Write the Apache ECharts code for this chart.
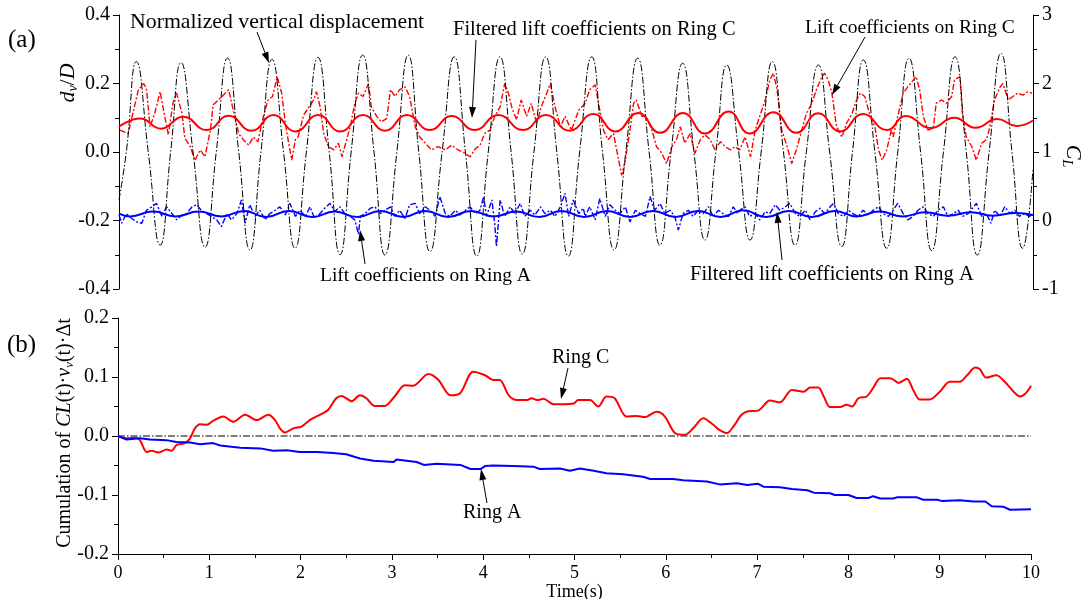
<!DOCTYPE html>
<html>
<head>
<meta charset="utf-8">
<script src="https://cdn.jsdelivr.net/npm/echarts@6/dist/echarts.min.js"></script>
<style>
html, body { margin: 0; padding: 0; background: #fff; }
#chart { width: 1084px; height: 599px; }
</style>
</head>
<body>
<div id="chart"></div>
<script>
// (a) normalized vertical displacement d_v/D, [time, value]
const displacement = [
  [0, -0.14], [0.08, 0], [0.19, 0.264], [0.32, 0], [0.45, -0.272], [0.565, 0], [0.678, 0.261], [0.81, 0],
  [0.941, -0.278], [1.064, 0], [1.187, 0.274], [1.31, 0], [1.433, -0.286], [1.553, 0], [1.674, 0.27], [1.8, 0],
  [1.926, -0.281], [2.05, 0], [2.177, 0.276], [2.3, 0], [2.418, -0.3], [2.54, 0], [2.666, 0.283], [2.79, 0],
  [2.91, -0.301], [3.04, 0], [3.165, 0.283], [3.28, 0], [3.403, -0.291], [3.535, 0], [3.668, 0.278], [3.79, 0],
  [3.914, -0.304], [4.04, 0], [4.168, 0.278], [4.29, 0], [4.412, -0.298], [4.54, 0], [4.668, 0.278], [4.79, 0],
  [4.916, -0.304], [5.04, 0], [5.172, 0.278], [5.29, 0], [5.416, -0.286], [5.545, 0], [5.675, 0.274], [5.8, 0],
  [5.919, -0.272], [6.04, 0], [6.167, 0.259], [6.29, 0], [6.411, -0.257], [6.53, 0], [6.649, 0.254], [6.78, 0],
  [6.904, -0.257], [7.026, 0], [7.148, 0.264], [7.27, 0], [7.396, -0.272], [7.52, 0], [7.651, 0.254], [7.775, 0],
  [7.907, -0.276], [8.025, 0], [8.144, 0.269], [8.27, 0], [8.399, -0.281], [8.52, 0], [8.643, 0.274], [8.77, 0],
  [8.892, -0.288], [9.02, 0], [9.147, 0.278], [9.27, 0], [9.39, -0.301], [9.52, 0], [9.65, 0.288], [9.77, 0],
  [9.887, -0.281], [10, -0.05]
]

// (a) lift coefficients on Ring C (raw), right axis
const liftC = [
  [0.01, 1.32], [0.1, 1.27], [0.16, 1.61], [0.21, 1.9], [0.27, 2.0], [0.3, 1.93], [0.34, 1.37], [0.39, 1.56],
  [0.45, 1.88], [0.5, 1.52], [0.54, 1.25], [0.59, 1.71], [0.63, 1.86], [0.69, 1.56], [0.72, 1.2], [0.78, 1.08],
  [0.83, 0.88], [0.89, 1.03], [0.94, 0.93], [1.0, 1.32], [1.03, 1.69], [1.09, 1.76], [1.14, 1.83], [1.2, 1.91],
  [1.25, 1.61], [1.31, 1.27], [1.36, 1.18], [1.42, 1.1], [1.47, 1.22], [1.52, 1.15], [1.58, 1.52], [1.63, 1.76],
  [1.68, 1.81], [1.73, 2.1], [1.78, 1.86], [1.82, 1.42], [1.85, 1.18], [1.89, 0.88], [1.93, 1.18], [1.96, 1.22],
  [2.02, 1.54], [2.07, 1.64], [2.13, 1.76], [2.16, 1.88], [2.2, 1.66], [2.24, 1.27], [2.29, 1.08], [2.35, 1.03],
  [2.4, 1.13], [2.44, 0.93], [2.47, 1.08], [2.53, 1.37], [2.58, 1.71], [2.62, 1.86], [2.67, 1.81], [2.73, 2.0],
  [2.76, 1.66], [2.82, 1.52], [2.87, 1.44], [2.93, 1.49], [2.97, 1.91], [3.02, 1.81], [3.07, 1.91], [3.13, 1.95],
  [3.18, 1.81], [3.24, 1.37], [3.29, 1.22], [3.35, 1.13], [3.42, 1.03], [3.49, 1.08], [3.57, 1.03], [3.64, 1.1],
  [3.71, 1.03], [3.79, 0.98], [3.84, 0.93], [3.9, 1.05], [3.95, 1.1], [4.0, 1.27], [4.06, 1.32], [4.11, 1.52],
  [4.17, 1.66], [4.22, 2.0], [4.26, 1.86], [4.3, 1.64], [4.35, 1.47], [4.4, 1.76], [4.46, 1.52], [4.51, 1.71],
  [4.57, 1.42], [4.62, 1.66], [4.68, 1.86], [4.72, 2.0], [4.77, 1.66], [4.83, 1.37], [4.88, 1.52], [4.95, 1.32],
  [5.03, 1.61], [5.1, 1.71], [5.15, 1.91], [5.21, 1.98], [5.24, 1.76], [5.3, 1.32], [5.35, 1.18], [5.41, 1.27],
  [5.46, 0.93], [5.5, 0.66], [5.54, 0.88], [5.59, 1.32], [5.63, 1.71], [5.66, 1.76], [5.72, 1.52], [5.77, 1.52],
  [5.83, 1.32], [5.88, 1.08], [5.94, 0.98], [5.99, 0.83], [6.05, 1.08], [6.1, 1.18], [6.14, 1.37], [6.19, 1.13],
  [6.25, 1.27], [6.3, 0.98], [6.36, 1.18], [6.41, 1.25], [6.47, 1.18], [6.52, 1.03], [6.58, 1.15], [6.63, 1.08],
  [6.69, 1.03], [6.74, 1.08], [6.79, 1.03], [6.85, 1.22], [6.91, 0.93], [6.96, 1.32], [7.01, 1.52], [7.07, 1.76],
  [7.12, 2.05], [7.16, 2.15], [7.2, 1.91], [7.25, 1.32], [7.31, 1.08], [7.36, 0.83], [7.41, 1.03], [7.47, 1.32],
  [7.52, 1.56], [7.58, 1.71], [7.63, 1.91], [7.69, 2.1], [7.72, 2.15], [7.76, 2.05], [7.8, 1.86], [7.85, 1.37],
  [7.91, 1.22], [7.96, 1.42], [8.02, 1.56], [8.07, 1.76], [8.11, 1.86], [8.16, 1.81], [8.22, 1.52], [8.27, 1.37],
  [8.31, 1.03], [8.35, 0.88], [8.4, 1.03], [8.45, 1.32], [8.47, 1.22], [8.52, 1.52], [8.58, 1.86], [8.63, 1.95],
  [8.69, 2.05], [8.72, 2.1], [8.76, 1.91], [8.8, 1.52], [8.85, 1.32], [8.91, 1.35], [8.94, 1.71], [9.0, 1.76],
  [9.05, 1.71], [9.11, 1.81], [9.14, 2.05], [9.2, 2.1], [9.23, 1.52], [9.27, 1.22], [9.33, 1.08], [9.38, 0.88],
  [9.44, 1.13], [9.49, 1.18], [9.52, 1.32], [9.58, 1.76], [9.64, 1.95], [9.67, 2.0], [9.73, 1.76], [9.78, 1.81],
  [9.83, 1.86], [9.89, 1.83], [9.94, 1.88], [9.99, 1.86]
]

// (a) lift coefficients on Ring A (raw), right axis
const liftA = [
  [0, 0.08], [0.03, -0.04], [0.08, 0.1], [0.14, 0.03], [0.19, -0.02], [0.25, -0.04], [0.3, 0.15], [0.36, 0.2],
  [0.41, 0.25], [0.47, 0.06], [0.52, 0.2], [0.58, 0.1], [0.63, 0.01], [0.69, 0.08], [0.74, 0.1], [0.8, 0.2],
  [0.85, 0.23], [0.9, 0.15], [0.96, 0.1], [1.01, 0.06], [1.07, 0.01], [1.12, -0.09], [1.18, 0.1], [1.23, 0.01],
  [1.29, 0.1], [1.34, 0.3], [1.38, -0.04], [1.43, 0.23], [1.49, 0.06], [1.54, 0.15], [1.6, 0.01], [1.65, 0.1],
  [1.71, 0.15], [1.76, 0.2], [1.82, 0.08], [1.87, 0.25], [1.93, 0.06], [1.98, 0.15], [2.04, 0.06], [2.09, 0.2],
  [2.14, 0.03], [2.2, 0.1], [2.25, 0.18], [2.31, 0.25], [2.36, 0.13], [2.42, 0.2], [2.47, 0.1], [2.53, 0.06],
  [2.58, 0.01], [2.62, -0.2], [2.64, 0.06], [2.69, 0.1], [2.75, 0.18], [2.8, 0.2], [2.86, 0.1], [2.91, 0.15],
  [2.97, 0.2], [3.02, 0.06], [3.07, 0.15], [3.13, 0.03], [3.18, 0.23], [3.24, 0.25], [3.29, 0.1], [3.35, 0.2],
  [3.4, 0.15], [3.46, 0.06], [3.51, 0.35], [3.57, 0.1], [3.62, 0.06], [3.68, 0.15], [3.73, 0.08], [3.79, 0.15],
  [3.84, 0.2], [3.9, 0.1], [3.95, 0.15], [3.99, 0.35], [4.02, 0.06], [4.08, 0.3], [4.11, -0.04], [4.13, -0.38],
  [4.17, 0.3], [4.22, 0.06], [4.28, 0.2], [4.33, 0.1], [4.39, 0.25], [4.44, 0.06], [4.5, 0.15], [4.55, 0.08],
  [4.61, 0.2], [4.66, 0.1], [4.72, 0.15], [4.77, 0.06], [4.83, 0.2], [4.88, 0.4], [4.92, 0.06], [4.97, 0.3],
  [5.03, 0.1], [5.08, 0.18], [5.1, 0.06], [5.15, 0.2], [5.21, 0.01], [5.26, 0.32], [5.32, 0.06], [5.37, 0.23],
  [5.43, 0.15], [5.48, 0.1], [5.54, 0.2], [5.59, -0.02], [5.65, 0.15], [5.7, 0.1], [5.76, 0.06], [5.81, 0.35],
  [5.86, 0.15], [5.92, 0.25], [5.97, 0.1], [6.03, 0.15], [6.08, 0.06], [6.12, -0.14], [6.17, 0.1], [6.23, 0.15],
  [6.28, 0.06], [6.34, 0.15], [6.39, 0.1], [6.45, 0.2], [6.5, 0.06], [6.56, 0.15], [6.61, 0.1], [6.67, 0.06],
  [6.72, 0.2], [6.77, 0.1], [6.79, 0.15], [6.85, 0.2], [6.9, 0.06], [6.96, 0.1], [7.01, 0.01], [7.07, 0.13],
  [7.12, 0.1], [7.18, 0.23], [7.23, 0.15], [7.29, 0.2], [7.34, 0.25], [7.4, 0.1], [7.45, 0.06], [7.51, 0.15],
  [7.56, 0.01], [7.62, 0.13], [7.67, 0.18], [7.72, 0.1], [7.78, 0.2], [7.82, 0.25], [7.87, 0.1], [7.93, 0.06],
  [7.98, 0.15], [8.03, 0.1], [8.09, 0.06], [8.14, 0.15], [8.2, 0.08], [8.25, 0.15], [8.31, 0.2], [8.36, 0.1],
  [8.42, 0.06], [8.47, 0.15], [8.52, 0.25], [8.58, 0.1], [8.63, 0.01], [8.69, 0.06], [8.74, 0.15], [8.8, 0.2],
  [8.85, 0.1], [8.91, 0.06], [8.96, 0.15], [9.02, 0.2], [9.07, 0.06], [9.13, 0.1], [9.18, 0.15], [9.23, 0.06],
  [9.29, 0.1], [9.34, 0.18], [9.38, 0.25], [9.44, 0.06], [9.49, 0.1], [9.54, -0.04], [9.58, 0.15], [9.64, 0.06],
  [9.69, 0.2], [9.75, 0.1], [9.8, 0.15], [9.85, 0.06], [9.91, 0.1], [9.96, 0.06], [10, 0.1]
]

// (a) filtered lift coefficients, right axis
const filteredC = [
  [0, 1.37], [0.23, 1.49], [0.46, 1.34], [0.7, 1.515], [0.96, 1.32], [1.2, 1.53], [1.45, 1.31], [1.69, 1.54],
  [1.93, 1.3], [2.18, 1.54], [2.42, 1.3], [2.67, 1.54], [2.91, 1.31], [3.15, 1.54], [3.4, 1.32], [3.64, 1.525],
  [3.89, 1.32], [4.15, 1.54], [4.42, 1.32], [4.67, 1.54], [4.93, 1.31], [5.19, 1.555], [5.43, 1.3], [5.68, 1.57],
  [5.92, 1.28], [6.17, 1.57], [6.41, 1.27], [6.67, 1.59], [6.9, 1.27], [7.16, 1.58], [7.41, 1.28], [7.65, 1.565],
  [7.89, 1.3], [8.14, 1.555], [8.4, 1.32], [8.61, 1.525], [8.88, 1.35], [9.14, 1.5], [9.37, 1.355], [9.61, 1.48],
  [9.82, 1.38], [10, 1.46]
]
const filteredA = [
  [0, 0.1], [0.12, 0.06], [0.37, 0.13], [0.62, 0.06], [0.87, 0.13], [1.12, 0.06], [1.37, 0.14], [1.61, 0.05],
  [1.86, 0.14], [2.11, 0.05], [2.36, 0.13], [2.61, 0.05], [2.86, 0.14], [3.11, 0.05], [3.35, 0.14], [3.6, 0.05],
  [3.85, 0.14], [4.1, 0.06], [4.35, 0.13], [4.6, 0.05], [4.84, 0.14], [5.09, 0.05], [5.34, 0.14], [5.59, 0.05],
  [5.84, 0.14], [6.09, 0.05], [6.34, 0.14], [6.58, 0.05], [6.83, 0.15], [7.08, 0.05], [7.33, 0.14], [7.58, 0.05],
  [7.83, 0.14], [8.07, 0.06], [8.32, 0.13], [8.57, 0.06], [8.82, 0.12], [9.07, 0.07], [9.32, 0.12], [9.56, 0.07],
  [9.81, 0.11], [10, 0.08]
]

// (b) cumulation of CL(t)·v_v(t)·Δt
const cumC = [
  [0, 0], [0.095, -0.004], [0.186, -0.003], [0.24, -0.007], [0.314, -0.027], [0.369, -0.025], [0.44, -0.028],
  [0.533, -0.023], [0.588, -0.025], [0.643, -0.015], [0.734, -0.012], [0.789, -0.004], [0.843, 0.013], [0.898, 0.02],
  [0.971, 0.019], [1.044, 0.026], [1.154, 0.033], [1.263, 0.024], [1.391, 0.036], [1.519, 0.027], [1.647, 0.036],
  [1.72, 0.027], [1.774, 0.013], [1.829, 0.006], [1.92, 0.013], [2.01, 0.016], [2.1, 0.027], [2.21, 0.036],
  [2.3, 0.044], [2.39, 0.064], [2.45, 0.068], [2.56, 0.059], [2.65, 0.069], [2.72, 0.064], [2.81, 0.051],
  [2.92, 0.051], [3.03, 0.067], [3.14, 0.086], [3.23, 0.085], [3.4, 0.105], [3.51, 0.095], [3.64, 0.069],
  [3.75, 0.073], [3.89, 0.109], [4.02, 0.103], [4.11, 0.095], [4.18, 0.095], [4.28, 0.069], [4.37, 0.061],
  [4.48, 0.061], [4.53, 0.064], [4.59, 0.061], [4.66, 0.063], [4.77, 0.054], [4.88, 0.054], [4.99, 0.055],
  [5.04, 0.061], [5.17, 0.061], [5.26, 0.05], [5.35, 0.067], [5.44, 0.064], [5.57, 0.033], [5.68, 0.034],
  [5.77, 0.032], [5.9, 0.041], [5.99, 0.033], [6.1, 0.005], [6.21, 0.002], [6.3, 0.013], [6.41, 0.03],
  [6.52, 0.019], [6.59, 0.01], [6.67, 0.005], [6.74, 0.016], [6.83, 0.036], [6.9, 0.042], [7.01, 0.043],
  [7.14, 0.06], [7.25, 0.057], [7.38, 0.078], [7.51, 0.075], [7.58, 0.082], [7.67, 0.082], [7.73, 0.067],
  [7.8, 0.049], [7.91, 0.049], [7.98, 0.053], [8.04, 0.05], [8.11, 0.064], [8.2, 0.067], [8.27, 0.081],
  [8.35, 0.098], [8.46, 0.098], [8.55, 0.09], [8.64, 0.097], [8.71, 0.078], [8.78, 0.062], [8.89, 0.062],
  [9.0, 0.075], [9.11, 0.092], [9.22, 0.092], [9.3, 0.103], [9.39, 0.116], [9.44, 0.113], [9.51, 0.099],
  [9.62, 0.103], [9.73, 0.089], [9.81, 0.075], [9.88, 0.067], [9.94, 0.072], [10, 0.085]
]
const cumA = [
  [0, 0], [0.095, -0.006], [0.24, -0.004], [0.35, -0.006], [0.53, -0.007], [0.64, -0.01], [0.79, -0.011],
  [0.9, -0.014], [1.04, -0.012], [1.12, -0.016], [1.34, -0.02], [1.56, -0.021], [1.7, -0.025], [1.85, -0.024],
  [1.99, -0.027], [2.18, -0.027], [2.36, -0.029], [2.5, -0.031], [2.65, -0.038], [2.8, -0.042], [3.02, -0.044],
  [3.05, -0.04], [3.27, -0.044], [3.35, -0.049], [3.49, -0.047], [3.75, -0.049], [3.86, -0.056], [3.97, -0.056],
  [4.02, -0.051], [4.11, -0.05], [4.33, -0.051], [4.55, -0.052], [4.62, -0.056], [4.84, -0.055], [4.95, -0.059],
  [5.06, -0.055], [5.21, -0.059], [5.35, -0.063], [5.53, -0.065], [5.75, -0.069], [5.83, -0.073], [6.08, -0.073],
  [6.19, -0.075], [6.45, -0.077], [6.59, -0.082], [6.78, -0.08], [6.89, -0.083], [7.01, -0.081], [7.07, -0.086],
  [7.25, -0.087], [7.38, -0.09], [7.55, -0.092], [7.62, -0.096], [7.8, -0.097], [7.85, -0.1], [8.0, -0.1],
  [8.09, -0.105], [8.22, -0.105], [8.27, -0.102], [8.35, -0.106], [8.49, -0.106], [8.53, -0.104], [8.75, -0.104],
  [8.82, -0.108], [8.97, -0.108], [9.02, -0.11], [9.22, -0.109], [9.37, -0.111], [9.5, -0.111], [9.57, -0.119],
  [9.7, -0.12], [9.77, -0.125], [10, -0.124]
]
const zeroLine = [[0, 0], [10, 0]]

const FONT = '"Liberation Serif", "Times New Roman", serif'
const ctx = document.createElement('canvas').getContext('2d')
const fontStr = (size, italic) => (italic ? 'italic ' : '') + size + 'px ' + FONT

// 分段文字（下标、斜体），以中心定位，可旋转
function richText(x, y, rotation, segs) {
  const widths = segs.map((s) => {
    ctx.font = fontStr(s[1], s[2])
    return ctx.measureText(s[0]).width
  })
  let cx = -widths.reduce((a, b) => a + b, 0) / 2
  const children = segs.map((s, i) => {
    const el = {
      type: 'text', x: cx, y: s[3] || 0,
      style: { text: s[0], font: fontStr(s[1], s[2]), fill: '#000', align: 'left', verticalAlign: 'middle' }
    }
    cx += widths[i]
    return el
  })
  return { type: 'group', x, y, rotation, children, z: 100 }
}

function label(x, y, text, size) {
  return {
    type: 'text', x, y, z: 100,
    style: { text, font: fontStr(size, false), fill: '#000', align: 'left', verticalAlign: 'middle' }
  }
}

// 箭头
function arrow(x1, y1, x2, y2) {
  const ang = Math.atan2(y2 - y1, x2 - x1)
  const L = 11, W = 3.5
  const bx = x2 - L * Math.cos(ang), by = y2 - L * Math.sin(ang)
  return [
    { type: 'line', z: 100, shape: { x1, y1, x2: bx, y2: by }, style: { stroke: '#000', lineWidth: 1 } },
    {
      type: 'polygon', z: 100,
      shape: { points: [[x2, y2], [bx + W * Math.sin(ang), by - W * Math.cos(ang)], [bx - W * Math.sin(ang), by + W * Math.cos(ang)]] },
      style: { fill: '#000' }
    }
  ]
}

const axisCommon = {
  type: 'value',
  axisLine: { show: true, onZero: false, lineStyle: { color: '#000', width: 1 } },
  axisTick: { show: true, inside: false, length: 6, lineStyle: { color: '#000' } },
  minorTick: { show: true, splitNumber: 2, length: 4, lineStyle: { color: '#000' } },
  splitLine: { show: false },
  minorSplitLine: { show: false }
}
const labelStyle = (size, fmt) => ({ color: '#000', fontFamily: FONT, fontSize: size, margin: 9, formatter: fmt })

const mChart = echarts.init(document.getElementById('chart'))
const options = {
  animation: false,
  backgroundColor: '#fff',
  grid: [
    { left: 119, right: 51, top: 15, height: 274, containLabel: false, outerBoundsMode: 'none' },
    { left: 118, right: 53, top: 318, height: 236, containLabel: false, outerBoundsMode: 'none' }
  ],
  xAxis: [
    { gridIndex: 0, type: 'value', min: 0, max: 10, show: false },
    {
      ...axisCommon, gridIndex: 1, min: 0, max: 10, interval: 1, position: 'bottom',
      axisLabel: { ...labelStyle(18, (v) => String(v)), margin: 10 },
      name: 'Time(s)', nameLocation: 'middle', nameGap: 21,
      nameTextStyle: { color: '#000', fontFamily: FONT, fontSize: 18 }
    }
  ],
  yAxis: [
    {
      ...axisCommon, gridIndex: 0, position: 'left', min: -0.4, max: 0.4, interval: 0.2,
      axisLabel: labelStyle(20, (v) => v.toFixed(1))
    },
    {
      ...axisCommon, gridIndex: 0, position: 'right', min: -1, max: 3, interval: 1,
      axisLabel: labelStyle(20, (v) => String(Math.round(v)))
    },
    {
      ...axisCommon, gridIndex: 1, position: 'left', min: -0.2, max: 0.2, interval: 0.1,
      axisLabel: labelStyle(20, (v) => v.toFixed(1))
    }
  ],
  series: [
    {
      name: 'Lift coefficients on Ring C', type: 'line', xAxisIndex: 0, yAxisIndex: 1, data: liftC,
      showSymbol: false, lineStyle: { color: '#ff0000', width: 1.4, type: [6, 2, 2, 2] }
    },
    {
      name: 'Lift coefficients on Ring A', type: 'line', xAxisIndex: 0, yAxisIndex: 1, data: liftA,
      showSymbol: false, lineStyle: { color: '#0000ff', width: 1.4, type: [6, 2, 2, 2] }
    },
    {
      name: 'Normalized vertical displacement', type: 'line', xAxisIndex: 0, yAxisIndex: 0, data: displacement,
      showSymbol: false, smooth: 0.5, lineStyle: { color: '#000', width: 1, type: [7, 2, 1.5, 2] }
    },
    {
      name: 'Filtered lift coefficients on Ring C', type: 'line', xAxisIndex: 0, yAxisIndex: 1, data: filteredC,
      showSymbol: false, smooth: 0.5, lineStyle: { color: '#ff0000', width: 2 }
    },
    {
      name: 'Filtered lift coefficients on Ring A', type: 'line', xAxisIndex: 0, yAxisIndex: 1, data: filteredA,
      showSymbol: false, smooth: 0.5, lineStyle: { color: '#0000ff', width: 2 }
    },
    {
      name: 'zero', type: 'line', xAxisIndex: 1, yAxisIndex: 2, data: zeroLine,
      showSymbol: false, lineStyle: { color: '#000', width: 1, type: [7, 2, 1.5, 2] }
    },
    {
      name: 'Ring C', type: 'line', xAxisIndex: 1, yAxisIndex: 2, data: cumC,
      showSymbol: false, smooth: 0.3, lineStyle: { color: '#ff0000', width: 2 }
    },
    {
      name: 'Ring A', type: 'line', xAxisIndex: 1, yAxisIndex: 2, data: cumA,
      showSymbol: false, lineStyle: { color: '#0000ff', width: 2 }
    }
  ],
  graphic: [
    label(8, 40, '(a)', 25),
    label(7, 345, '(b)', 25),
    richText(68, 83, Math.PI / 2, [['d', 22, true], ['v', 14, true, 5], ['/', 22, false], ['D', 22, true]]),
    richText(1073, 156, -Math.PI / 2, [['C', 22, true], ['L', 14, true, 6]]),
    richText(65, 433, Math.PI / 2, [
      ['Cumulation of ', 20, false], ['CL', 20, true], ['(t)·', 20, false], ['v', 20, true],
      ['v', 13, true, 5], ['(t)·Δt', 20, false]
    ]),
    label(130, 22, 'Normalized vertical displacement', 21.8),
    label(453, 30, 'Filtered lift coefficients on Ring C', 20.5),
    label(805, 28, 'Lift coefficients on Ring C', 19.5),
    label(320, 276, 'Lift coefficients on Ring A', 19.5),
    label(690, 275, 'Filtered lift coefficients on Ring A', 20.5),
    label(552, 358, 'Ring C', 20),
    label(463, 513, 'Ring A', 20),
    ...arrow(257, 32, 269, 63),
    ...arrow(476, 40, 472, 118),
    ...arrow(865, 37, 832, 95),
    ...arrow(365, 264, 360, 230),
    ...arrow(782, 260, 777, 212),
    ...arrow(568, 368, 561, 399),
    ...arrow(487, 503, 481, 469)
  ]
}
mChart.setOption(options)
window.addEventListener('resize', () => {
  mChart.resize()
})
</script>
</body>
</html>
